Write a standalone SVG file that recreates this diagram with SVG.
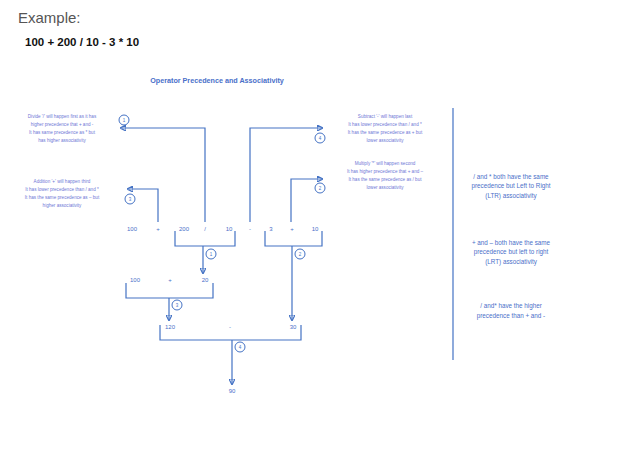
<svg xmlns="http://www.w3.org/2000/svg" width="619" height="454" viewBox="0 0 619 454">
<style>
.t{font-family:"Liberation Sans",Arial,sans-serif;fill:#4a6fc9;text-anchor:middle}
.a{font-size:4.6px;fill:#6f78d6}
.n{font-size:6px}
.r{font-size:6.3px}
.c{fill:#fff;stroke:#4472c4;stroke-width:1}
.cn{font-size:4.5px;fill:#4472c4}
line,path{stroke:#4472c4;stroke-width:1.2;fill:none}
</style>
<defs><marker id="ah" markerWidth="6" markerHeight="6" refX="5" refY="3" orient="auto" markerUnits="userSpaceOnUse"><path d="M0,0 L6,3 L0,6 z" fill="#4472c4" stroke="none"/></marker></defs>
<text x="18" y="23" font-family="Liberation Sans,Arial,sans-serif" font-size="15" fill="#555">Example:</text>
<text x="25" y="46" font-family="Liberation Sans,Arial,sans-serif" font-size="11.5" font-weight="bold" fill="#111">100 + 200 / 10 - 3 * 10</text>
<text class="t" x="217" y="83" font-size="7.2" font-weight="bold">Operator Precedence and Associativity</text>
<line x1="453" y1="108" x2="453" y2="360"/>
<g id="notes">
<text class="t a" x="62" y="118">Divide '/' will happen first as it has</text>
<text class="t a" x="62" y="126">higher precedence that + and -</text>
<text class="t a" x="62" y="134">It has same precedence as * but</text>
<text class="t a" x="62" y="142">has higher associativity</text>
<text class="t a" x="62" y="183">Addition '+' will happen third</text>
<text class="t a" x="62" y="191">It has lower precedence than / and *</text>
<text class="t a" x="62" y="199">It has the same precedence as – but</text>
<text class="t a" x="62" y="207">higher associativity</text>
<text class="t a" x="385" y="118">Subtract '-' will happen last</text>
<text class="t a" x="385" y="126">It has lower precedence than / and *</text>
<text class="t a" x="385" y="134">It has the same precedence as + but</text>
<text class="t a" x="385" y="142">lower associativity</text>
<text class="t a" x="385" y="165">Multiply '*' will happen second</text>
<text class="t a" x="385" y="173">It has higher precedence that + and –</text>
<text class="t a" x="385" y="181">It has the same precedence as / but</text>
<text class="t a" x="385" y="189">lower associativity</text>
</g>
<g id="side">
<text class="t r" x="511" y="179">/ and * both have the same</text>
<text class="t r" x="511" y="188">precedence but Left to Right</text>
<text class="t r" x="511" y="198">(LTR) associativity</text>
<text class="t r" x="511" y="245">+ and – both have the same</text>
<text class="t r" x="511" y="254">precedence but left to right</text>
<text class="t r" x="511" y="264">(LRT) associativity</text>
<text class="t r" x="511" y="308">/ and* have the higher</text>
<text class="t r" x="511" y="318">precedence than + and -</text>
</g>
<g id="expr">
<text class="t n" x="132" y="231">100</text><text class="t n" x="158" y="231">+</text><text class="t n" x="184" y="231">200</text><text class="t n" x="205" y="231">/</text><text class="t n" x="229" y="231">10</text><text class="t n" x="250" y="231">-</text><text class="t n" x="271" y="231">3</text><text class="t n" x="292" y="231">+</text><text class="t n" x="315" y="231">10</text>
<text class="t n" x="135" y="282">100</text><text class="t n" x="170" y="282">+</text><text class="t n" x="205" y="282">20</text>
<text class="t n" x="170" y="329">120</text><text class="t n" x="230" y="329">-</text><text class="t n" x="293" y="329">30</text>
<text class="t n" x="232" y="393">90</text>
</g>
<g id="connectors">
<path d="M205,222 V128 H121" marker-end="url(#ah)"/>
<path d="M158,222 V189 H128" marker-end="url(#ah)"/>
<path d="M250,222 V128 H322" marker-end="url(#ah)"/>
<path d="M291,222 V179 H322" marker-end="url(#ah)"/>
<path d="M175,231 V246 H235 V231"/>
<path d="M265,231 V246 H322 V231"/>
<path d="M126,283 V298 H213 V283"/>
<path d="M160,325 V340 H301 V325"/>
<path d="M203,246 V273" marker-end="url(#ah)"/>
<path d="M292,246 V320" marker-end="url(#ah)"/>
<path d="M169,298 V320" marker-end="url(#ah)"/>
<path d="M232,340 V384" marker-end="url(#ah)"/>
</g>
<g id="badges">
<circle class="c" cx="124" cy="120" r="5"/><text class="t cn" x="124" y="121.6">1</text>
<circle class="c" cx="130" cy="199" r="5"/><text class="t cn" x="130" y="200.6">3</text>
<circle class="c" cx="320" cy="138" r="5"/><text class="t cn" x="320" y="139.6">4</text>
<circle class="c" cx="320" cy="188" r="5"/><text class="t cn" x="320" y="189.6">2</text>
<circle class="c" cx="211" cy="254" r="5"/><text class="t cn" x="211" y="255.6">1</text>
<circle class="c" cx="300" cy="254" r="5"/><text class="t cn" x="300" y="255.6">2</text>
<circle class="c" cx="177" cy="305" r="5"/><text class="t cn" x="177" y="306.6">3</text>
<circle class="c" cx="240" cy="347" r="5"/><text class="t cn" x="240" y="348.6">4</text>
</g>
</svg>
